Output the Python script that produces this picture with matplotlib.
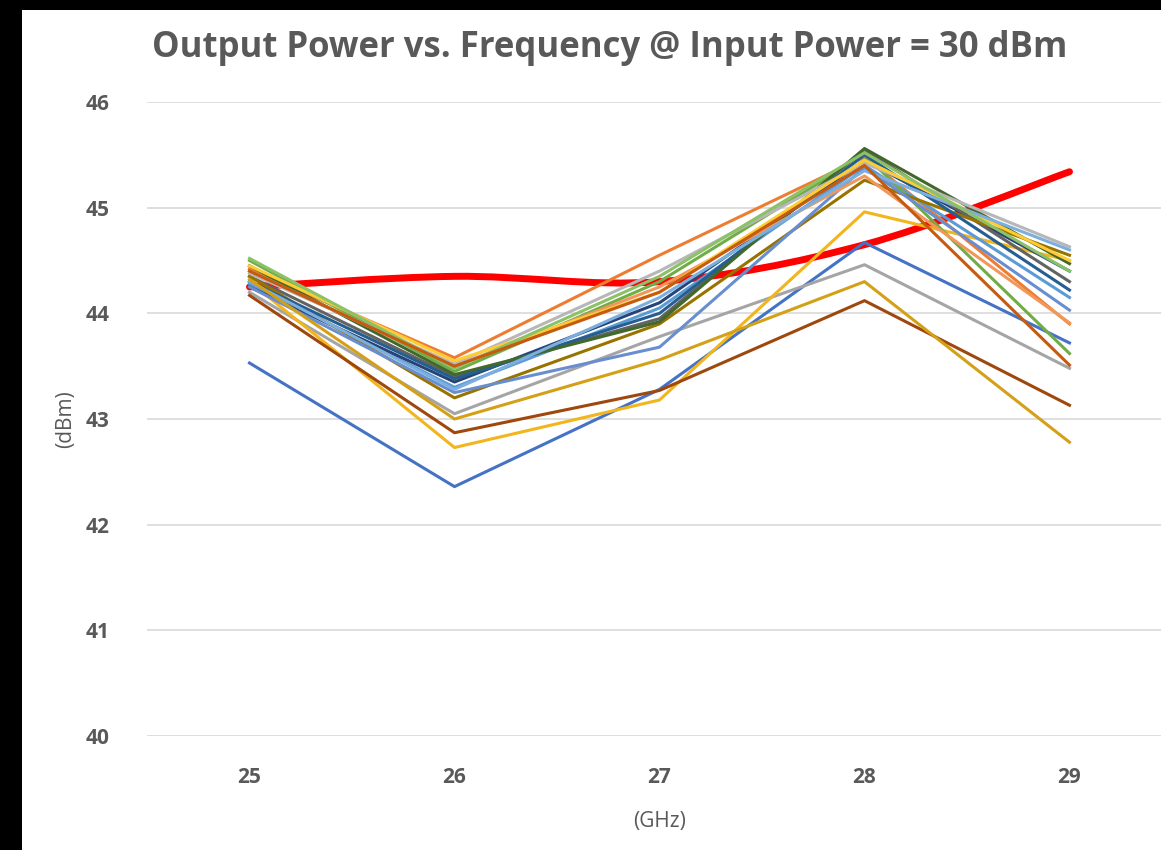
import matplotlib
matplotlib.use("Agg")
import matplotlib.pyplot as plt
import numpy as np
from matplotlib.path import Path
from matplotlib.patches import PathPatch, Rectangle

plt.rcParams['font.family'] = ['Open Sans', 'DejaVu Sans']

# frequencies (GHz)
freqs = [25, 26, 27, 28, 29]

# highlighted (smoothed) reference trace
ref_power = [44.25, 44.35, 44.30, 44.65, 45.34]

# measured traces, output power in dBm
traces = [
    [43.53, 42.36, 43.28, 44.67, 43.72],
    [44.42, 43.58, 44.55, 45.48, 43.90],
    [44.20, 43.05, 43.78, 44.46, 43.48],
    [44.30, 42.73, 43.18, 44.96, 44.50],
    [44.28, 43.30, 44.05, 45.40, 44.15],
    [44.50, 43.45, 44.30, 45.50, 43.62],
    [44.25, 43.35, 44.10, 45.45, 44.40],
    [44.17, 42.87, 43.27, 44.12, 43.13],
    [44.35, 43.40, 43.95, 45.55, 44.30],
    [44.35, 43.20, 43.90, 45.26, 44.55],
    [44.30, 43.38, 44.00, 45.50, 44.22],
    [44.45, 43.42, 43.92, 45.56, 44.47],
    [44.25, 43.25, 43.68, 45.38, 44.03],
    [44.40, 43.50, 44.25, 45.30, 43.91],
    [44.38, 43.52, 44.40, 45.42, 44.63],
    [44.45, 43.55, 44.20, 45.45, 44.50],
    [44.30, 43.28, 44.15, 45.35, 44.60],
    [44.52, 43.48, 44.35, 45.52, 44.40],
    [44.32, 43.00, 43.56, 44.30, 42.78],
    [44.40, 43.50, 44.20, 45.40, 43.51],
]
trace_colors = ['#4472C4', '#ED7D31', '#A5A5A5', '#F2B51C', '#5B9BD5', '#70AD47',
                '#264478', '#9E480E', '#636363', '#997300', '#255E91', '#43682B',
                '#698ED0', '#F1975A', '#B7B7B7', '#FFCD33', '#7CAFDD', '#8CC168',
                '#D4A017', '#C55A11']

W, H = 1161, 850
fig = plt.figure(figsize=(W / 100, H / 100), dpi=100)
fig.patch.set_facecolor('black')
# white chart area inside the black border
fig.add_artist(Rectangle((22 / W, 0), 1, (H - 10) / H, transform=fig.transFigure,
                         facecolor='white', edgecolor='none', zorder=0))

ax = fig.add_axes([147 / W, 114 / H, (1172 - 147) / W, (748 - 114) / H])
ax.set_facecolor('none')

# red reference line drawn smooth (bezier through the points)
pts = np.column_stack([freqs, ref_power])
verts = [tuple(pts[0])]
codes = [Path.MOVETO]
n = len(pts)
for i in range(n - 1):
    p0 = pts[max(i - 1, 0)]
    p1 = pts[i]
    p2 = pts[i + 1]
    p3 = pts[min(i + 2, n - 1)]
    c1 = p1 + (p2 - p0) / 6
    c2 = p2 - (p3 - p1) / 6
    verts += [tuple(c1), tuple(c2), tuple(p2)]
    codes += [Path.CURVE4] * 3
ax.add_patch(PathPatch(Path(verts, codes), facecolor='none', edgecolor='#FF0000',
                       lw=5, capstyle='round', zorder=2))

for vals, col in zip(traces, trace_colors):
    ax.plot(freqs, vals, color=col, lw=2.2, zorder=3)

ax.set_xlim(24.5, 29.5)
ax.set_ylim(40, 46)
ax.set_xticks(freqs)
ax.set_yticks(range(40, 47))
ax.grid(axis='y', color='#D9D9D9', lw=1.2, zorder=0)
for s in ax.spines.values():
    s.set_visible(False)
ax.tick_params(length=0, labelsize=15, labelcolor='#595959')
ax.tick_params(axis='x', pad=22)
ax.tick_params(axis='y', pad=27)
for lab in ax.get_xticklabels() + ax.get_yticklabels():
    lab.set_fontweight('bold')

ax.set_xlabel('(GHz)', fontsize=15, color='#595959')
ax.xaxis.set_label_coords(0.5, -0.118)
ax.set_ylabel('(dBm)', fontsize=15, color='#595959', labelpad=0)
ax.yaxis.set_label_coords(-0.069, 0.5)

fig.text(610 / W, 1 - 48 / H, 'Output Power vs. Frequency @ Input Power = 30 dBm',
         ha='center', va='center', fontsize=25, fontweight='bold', color='#595959')

fig.savefig('out.png', dpi=100, facecolor=fig.get_facecolor())
